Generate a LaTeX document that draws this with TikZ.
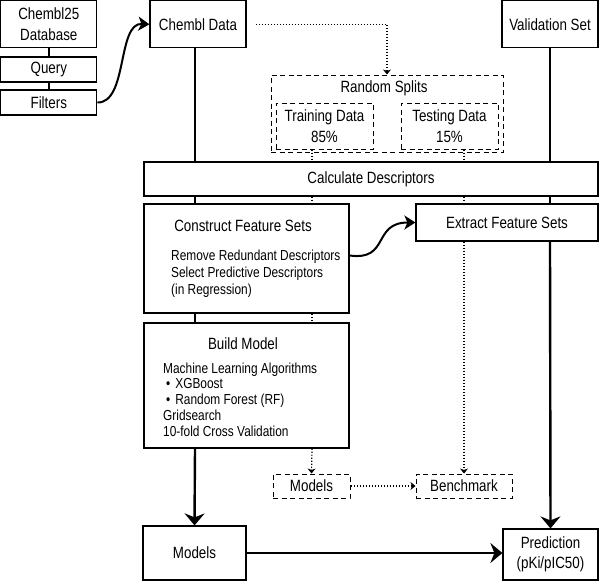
\documentclass[tikz,border=0pt]{standalone}
\usepackage{fontspec}
\setmainfont{Liberation Sans}[FakeStretch=0.82]
\usetikzlibrary{arrows.meta}
\newcommand\mainlbl{\fontsize{16.3}{20.5}\selectfont}
\newcommand\detlbl{\fontsize{14.5}{17}\selectfont}
\begin{document}
\begin{tikzpicture}[x=1pt,y=-1pt,
  box/.style={draw, line width=1.2pt, fill=white, inner sep=0pt, font=\mainlbl, align=center},
  dbox/.style={draw, line width=1pt, dash pattern=on 5pt off 3.5pt, fill=white, inner sep=0pt, font=\mainlbl, align=center},
  txt/.style={inner sep=0pt, font=\mainlbl, align=center},
  det/.style={inner sep=0pt, font=\detlbl, align=left, anchor=west},
  flow/.style={line width=2.4pt},
  thin/.style={line width=2pt},
  dots/.style={line width=1.2pt, dash pattern=on 1.2pt off 1.8pt},
  bigtip/.style={-{Stealth[length=12pt,width=20pt,inset=4pt]}},
  curvetip/.style={-{Stealth[length=11pt,width=14pt,inset=3pt]}},
  dottip/.style={-{Stealth[length=5pt,width=8pt,inset=1.5pt]}}
]
\useasboundingbox (0,0) rectangle (600,581);

% vertical guide coordinates
\coordinate (mainx) at (195,0);
\coordinate (trx) at (312,0);
\coordinate (tex) at (464,0);

% top-left boxes
\node[box, minimum width=96pt, minimum height=47pt] (db) at (48.8,24.3) {Chembl25\\Database};
\node[box, minimum width=96pt, minimum height=25pt] (query) at (48.8,69.5) {Query};
\node[box, minimum width=96pt, minimum height=25pt] (filters) at (48.8,102.5) {Filters};

\node[box, minimum width=96pt, minimum height=47pt] (chembl) at (198,24.3) {Chembl Data};
\node[box, minimum width=96pt, minimum height=47pt] (validation) at (550,24.3) {Validation Set};

% random splits
\node[dbox, minimum width=232pt, minimum height=77pt] (splits) at (387,113.5) {};
\node[txt] (splitslbl) at (384,88) {Random Splits};
\node[dbox, minimum width=97pt, minimum height=46pt] (training) at (324.5,126) {Training Data\\85\%};
\node[dbox, minimum width=97pt, minimum height=46pt] (testing) at (449.5,126) {Testing Data\\15\%};

% connectors behind boxes
\draw[flow] (mainx |- chembl.south) -- (mainx |- 0,162);
\draw[flow] (validation.south) -- (validation.south |- 0,162);
\draw[dots] (trx |- training.south) -- (trx |- 0,162);
\draw[dots] (tex |- testing.south) -- (tex |- 0,162);

\node[box, minimum width=454pt, minimum height=34pt] (calc) at (371,179) {Calculate Descriptors};

\draw[flow] (mainx |- calc.south) -- (mainx |- 0,204);
\draw[dots] (trx |- calc.south) -- (trx |- 0,204);
\draw[dots] (tex |- calc.south) -- (tex |- 0,204);
\draw[flow] (validation.south |- calc.south) -- (validation.south |- 0,204);

\node[box, minimum width=205pt, minimum height=109pt] (construct) at (246.5,258.5) {};
\node[txt] (constructlbl) at (243,226) {Construct Feature Sets};
\node[det] (constructdet) at (171,273.5) {Remove Redundant Descriptors\\Select Predictive Descriptors\\(in Regression)};

\node[box, minimum width=182pt, minimum height=37pt] (extract) at (507,222.5) {Extract Feature Sets};

\draw[flow] (mainx |- construct.south) -- (mainx |- 0,323);
\draw[dots] (trx |- construct.south) -- (trx |- 0,323);

\node[box, minimum width=205pt, minimum height=125pt] (build) at (246.5,385.5) {};
\node[txt] (buildlbl) at (243,344) {Build Model};
\node[det, font=\fontsize{14.5}{15.8}\selectfont] (builddet) at (163,399.5) {Machine Learning Algorithms\\\hspace{3pt}\textbullet\hspace{5pt}XGBoost\\\hspace{3pt}\textbullet\hspace{5pt}Random Forest (RF)\\Gridsearch\\10-fold Cross Validation};

\node[dbox, minimum width=77pt, minimum height=24pt] (modelsd) at (311.5,486) {Models};
\node[dbox, minimum width=96pt, minimum height=24pt] (bench) at (464,486) {Benchmark};

\node[box, minimum width=103pt, minimum height=54pt] (models) at (194.5,553) {Models};
\node[box, minimum width=95pt, minimum height=51pt] (pred) at (550.5,554.5) {Prediction\\(pKi/pIC50)};

% connectors
\draw[thin] (db.south) -- (query.north);
\draw[thin] (query.south) -- (filters.north);
\draw[flow, line width=2pt, curvetip] (filters.east) .. controls (128,103) and (117,22.5) .. (chembl.west);
\draw[dots, dottip, shorten <=9pt] (chembl.east) -| (splits.north);
\draw[flow, line width=2pt, curvetip] ([yshift=3pt]construct.east) .. controls (390,261) and (372,222.5) .. (extract.west);
\draw[dots, dottip] (trx |- build.south) -- (modelsd.north);
\draw[dots, dottip] (tex |- extract.south) -- (bench.north);
\draw[dots, dottip] (modelsd.east) -- (bench.west);
\draw[flow, bigtip] (mainx |- build.south) -- (models.north);
\draw[flow, bigtip] (validation.south |- extract.south) -- (pred.north);
\draw[flow, bigtip] (models.east) -- (models.east -| pred.west);
\end{tikzpicture}
\end{document}
